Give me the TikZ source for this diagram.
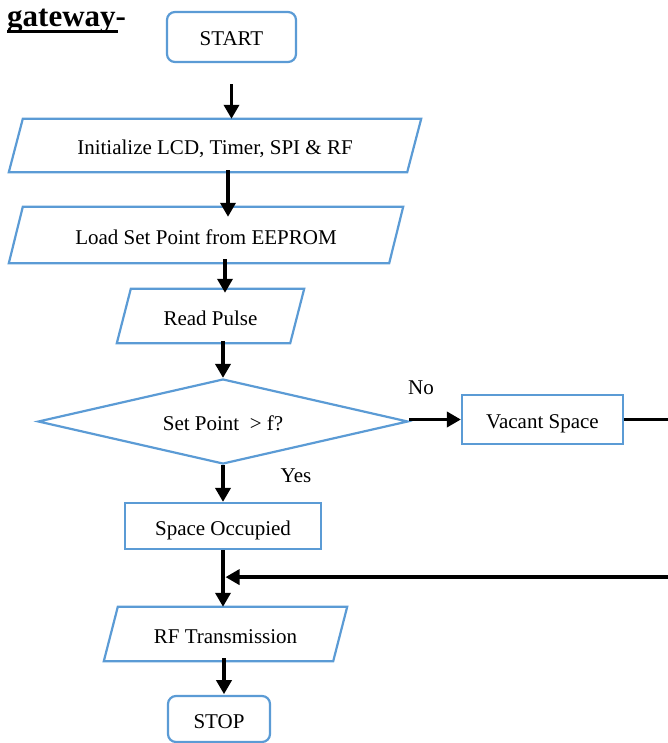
\documentclass[tikz,border=0pt]{standalone}
\usepackage{fontspec}
\setmainfont{Liberation Serif}
\usetikzlibrary{arrows.meta,shapes.geometric,calc}
\definecolor{flowblue}{HTML}{5B9BD5}
\begin{document}
\begin{tikzpicture}[x=1pt,y=-1pt,
  txt/.style={font=\fontsize{21}{25}\selectfont,inner sep=0pt,text height=18pt,text depth=0pt},
  box/.style={txt,draw=flowblue,line width=2.2pt},
  term/.style={box,rounded corners=8pt},
  proc/.style={box},
  iobox/.style={txt},
  para/.style={draw=flowblue,line width=2.2pt,line join=miter},
  decide/.style={box,shape=diamond,aspect=4.35},
  arr/.style={line width=3.5pt,-{Triangle[width=15pt,length=14pt]}},
  lbl/.style={font=\fontsize{21}{25}\selectfont,inner sep=0pt,anchor=base}]
\useasboundingbox (0,0) rectangle (668,743);
\clip (0,0) rectangle (668,743);

% title
\node[font=\fontsize{31}{36}\selectfont\bfseries,inner sep=0pt,anchor=base west] (title) at (7,27) {gateway-};
\draw[line width=2.2pt] ([yshift=-4.5pt]title.base west) -- ([yshift=-4.5pt,xshift=111pt]title.base west);

% nodes
\node[term,minimum width=129pt,minimum height=50pt] (start) at (231.5,37) {START};

\node[iobox,minimum width=398pt,minimum height=53pt] (init) at (215,145.5) {Initialize LCD, Timer, SPI \& RF};
\draw[para] ([xshift=7pt]init.north west) -- ([xshift=7pt]init.north east) -- ([xshift=-7pt]init.south east) -- ([xshift=-7pt]init.south west) -- cycle;

\node[iobox,minimum width=380pt,minimum height=56pt] (load) at (206,235) {Load Set Point from EEPROM};
\draw[para] ([xshift=7pt]load.north west) -- ([xshift=7pt]load.north east) -- ([xshift=-7pt]load.south east) -- ([xshift=-7pt]load.south west) -- cycle;

\node[iobox,minimum width=173pt,minimum height=54pt] (read) at (210.5,316) {Read Pulse};
\draw[para] ([xshift=7pt]read.north west) -- ([xshift=7pt]read.north east) -- ([xshift=-7pt]read.south east) -- ([xshift=-7pt]read.south west) -- cycle;

\node[decide,minimum width=370pt,minimum height=85pt] (dec) at (223,421.5) {Set Point~ > f?};

\node[proc,minimum width=161pt,minimum height=49pt] (vac) at (542.5,419.5) {Vacant Space};

\node[proc,minimum width=196pt,minimum height=46pt] (occ) at (223,526) {Space Occupied};

\node[iobox,minimum width=229pt,minimum height=54pt] (rf) at (225.5,634) {RF Transmission};
\draw[para] ([xshift=7pt]rf.north west) -- ([xshift=7pt]rf.north east) -- ([xshift=-7pt]rf.south east) -- ([xshift=-7pt]rf.south west) -- cycle;

\node[term,minimum width=102pt,minimum height=46pt] (stop) at (219,719) {STOP};

% labels
\node[lbl] (nolbl) at (421,394) {No};
\node[lbl] (yeslbl) at (296,482) {Yes};

% connectors
\draw[arr] ([yshift=-21pt]start.south) -- (start.south |- init.north);
\draw[arr] ($(init.south)+(13,-2)$) -- ($(load.north)+(22,10)$);
\draw[arr] ($(load.south)+(19,-4)$) -- ($(read.north)+(14.5,4)$);
\draw[arr] ($(dec.north)+(0,-37)$) -- (dec.north);
\draw[arr] (dec.east |- vac.west) -- (vac.west);
\draw[arr] (dec.south) -- (occ.north);
\draw[arr] (occ.south) -- (occ.south |- rf.north);
\coordinate (join) at ($(occ.south)+(0,27)$);
\draw[arr,shorten >=2.5pt] (vac.east) -- ++(80,0) |- (join);
\draw[arr] ($(rf.south)+(-1.5,-3)$) -- ($(rf.south)+(-1.5,33)$);
\end{tikzpicture}
\end{document}
